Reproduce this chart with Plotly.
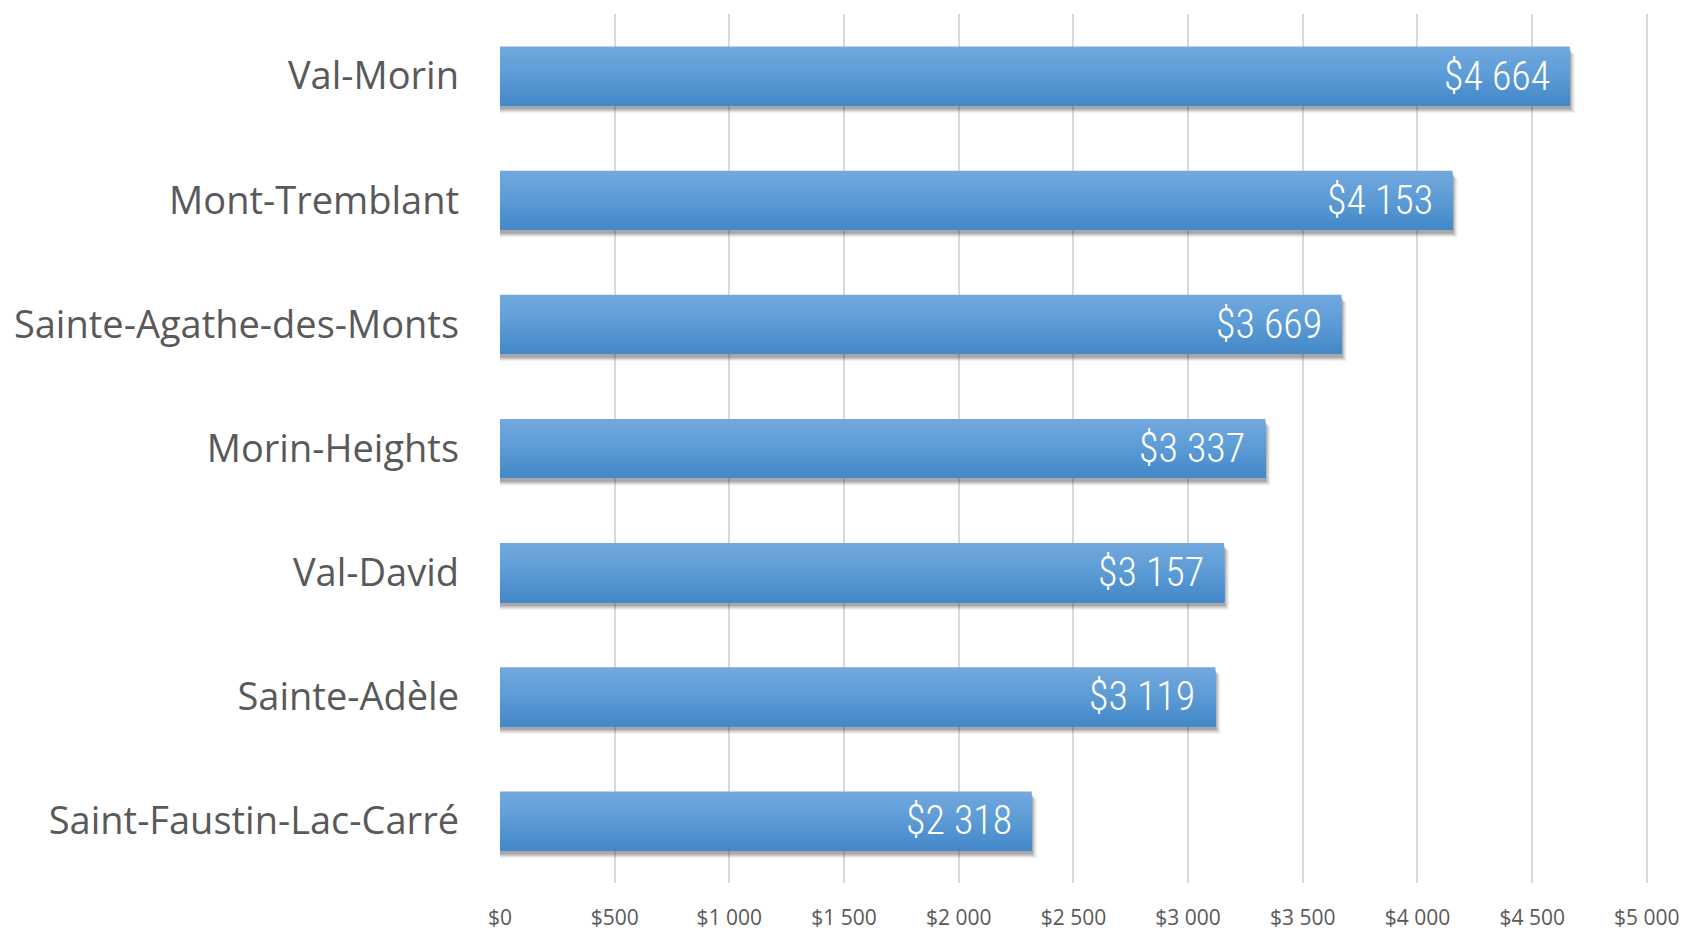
import plotly.graph_objects as go

categories = ["Val-Morin", "Mont-Tremblant", "Sainte-Agathe-des-Monts", "Morin-Heights",
              "Val-David", "Sainte-Adèle", "Saint-Faustin-Lac-Carré"]
values = [4664, 4153, 3669, 3337, 3157, 3119, 2318]
tick_values = [0, 500, 1000, 1500, 2000, 2500, 3000, 3500, 4000, 4500, 5000]

def money(v):
    return "$" + f"{v:,}".replace(",", " ")

tick_text = [money(v) for v in tick_values]

BAR_W = 0.476
fig = go.Figure()

# soft drop shadow (few blurred layers)
for dy, dx, op in [(0.06, 22, 0.07), (0.05, 16, 0.11), (0.04, 10, 0.15), (0.03, 5, 0.18)]:
    fig.add_trace(go.Bar(
        x=[v + dx for v in values], y=categories, orientation="h",
        offset=-BAR_W / 2 + dy, width=BAR_W,
        marker=dict(color=f"rgba(50,50,50,{op})", line=dict(width=0)),
        hoverinfo="skip", showlegend=False))

# vertical gradient: light on top -> darker at bottom
top = (114, 168, 222)
mid = (91, 155, 213)
bot = (68, 136, 201)
N = 24
for k in range(N):
    t = k / (N - 1)
    if t < 0.5:
        u = t / 0.5
        c = [round(top[j] + (mid[j] - top[j]) * u) for j in range(3)]
    else:
        u = (t - 0.5) / 0.5
        c = [round(mid[j] + (bot[j] - mid[j]) * u) for j in range(3)]
    start = -BAR_W / 2 + k * BAR_W / N
    fig.add_trace(go.Bar(
        x=values, y=categories, orientation="h",
        offset=start, width=BAR_W / 2 - start,
        marker=dict(color=f"rgb({c[0]},{c[1]},{c[2]})", line=dict(width=0)),
        hoverinfo="skip", showlegend=False))

for cat, v in zip(categories, values):
    fig.add_annotation(x=v, y=cat, xref="x", yref="y", text=money(v),
                       xanchor="right", yanchor="middle", xshift=-18, showarrow=False,
                       font=dict(family="Roboto Condensed Light, Roboto Condensed, Liberation Sans Narrow, sans-serif",
                                 size=40, color="white", weight=300))

# page body has an 8px default margin: figure is sized/placed to compensate
fig.update_layout(
    width=1678, height=929,
    paper_bgcolor="white", plot_bgcolor="white",
    barmode="overlay",
    margin=dict(l=488, r=26, t=6, b=36),
    showlegend=False,
    xaxis=dict(range=[0, 5005], tickvals=tick_values, ticktext=tick_text,
               showgrid=True, gridcolor="#d9d9d9", gridwidth=2,
               zeroline=False, showline=False, ticks="",
               ticklabelstandoff=20, ticklabeloverflow="allow",
               tickfont=dict(family="Open Sans, sans-serif", size=21, color="#595959")),
    yaxis=dict(categoryorder="array", categoryarray=categories, autorange="reversed",
               showgrid=False, zeroline=False, showline=False, ticks="",
               ticklabelstandoff=40,
               tickfont=dict(family="Open Sans, sans-serif", size=38, color="#595959")),
)

fig.write_html("out.html")
